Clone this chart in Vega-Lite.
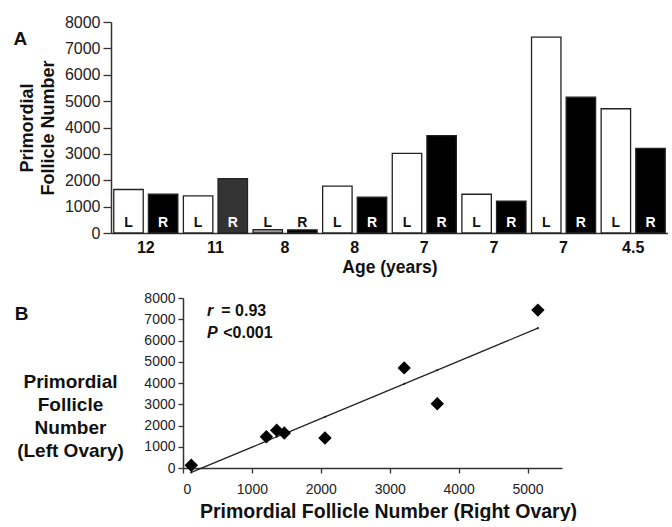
{
  "$schema": "https://vega.github.io/schema/vega-lite/v6.json",
  "padding": {"left": 13, "top": 14, "right": 0, "bottom": 0},
  "spacing": 15,
  "config": {
    "view": {"stroke": null},
    "font": "Liberation Sans",
    "axis": {"grid": false, "labelOverlap": false, "domainColor": "#333333", "tickColor": "#333333", "labelColor": "#222222", "titleColor": "#111111", "domainWidth": 1.5, "tickWidth": 1.3}
  },
  "datasets": {
    "counts": [
      {"donor": "12|1", "side": "L", "count": 1650},
      {"donor": "12|1", "side": "R", "count": 1470},
      {"donor": "11|2", "side": "L", "count": 1410},
      {"donor": "11|2", "side": "R", "count": 2060},
      {"donor": "8|3", "side": "L", "count": 130},
      {"donor": "8|3", "side": "R", "count": 120},
      {"donor": "8|4", "side": "L", "count": 1780},
      {"donor": "8|4", "side": "R", "count": 1360},
      {"donor": "7|5", "side": "L", "count": 3020},
      {"donor": "7|5", "side": "R", "count": 3690},
      {"donor": "7|6", "side": "L", "count": 1470},
      {"donor": "7|6", "side": "R", "count": 1210},
      {"donor": "7|7", "side": "L", "count": 7430},
      {"donor": "7|7", "side": "R", "count": 5150},
      {"donor": "4.5|8", "side": "L", "count": 4710},
      {"donor": "4.5|8", "side": "R", "count": 3210}
    ],
    "fit": [
      {"R": 120, "L": -210},
      {"R": 1210, "L": 1260},
      {"R": 1360, "L": 1470},
      {"R": 1470, "L": 1610},
      {"R": 2060, "L": 2410},
      {"R": 3210, "L": 3960},
      {"R": 3690, "L": 4610},
      {"R": 5150, "L": 6580}
    ],
    "italic": [
      {"t": "r", "R": 350, "L": 7170},
      {"t": "P", "R": 350, "L": 6130}
    ],
    "stats": [
      {"t": "= 0.93", "R": 555, "L": 7170},
      {"t": "<0.001", "R": 584, "L": 6130}
    ]
  },
  "vconcat": [
    {
      "title": {"text": "A", "anchor": "start", "frame": "bounds", "fontSize": 19, "fontWeight": "bold", "baseline": "top", "offset": -14, "dx": -5, "dy": 21, "color": "#111111"},
      "width": 557,
      "height": 211,
      "data": {"name": "counts"},
      "encoding": {
        "x": {
          "field": "donor", "type": "nominal", "sort": null,
          "scale": {"paddingInner": 0, "paddingOuter": 0},
          "axis": {"title": "Age (years)", "labelExpr": "split(datum.label, '|')[0]", "labelAngle": 0, "ticks": false, "labelOverlap": false, "labelFont": "Liberation Sans", "labelFontWeight": "bold", "labelFontSize": 16, "labelPadding": 6, "labelColor": "#111111", "titleFontSize": 17.5, "titleFontWeight": "bold", "titlePadding": 3}
        },
        "xOffset": {"field": "side", "type": "nominal", "scale": {"paddingInner": 0.15, "paddingOuter": 0.08}}
      },
      "layer": [
        {
          "mark": {"type": "bar", "stroke": "#222222", "strokeWidth": 1.3},
          "encoding": {
            "y": {
              "field": "count", "type": "quantitative",
              "scale": {"domain": [0, 8000], "nice": false},
              "axis": {"title": ["Primordial", "Follicle Number"], "values": [0, 1000, 2000, 3000, 4000, 5000, 6000, 7000, 8000], "tickCount": 12, "format": "d", "labelOverlap": false, "labelFont": "Liberation Sans", "labelFontSize": 16, "tickSize": 8, "labelPadding": 3, "titleFontSize": 18, "titleFontWeight": "bold", "titlePadding": 7, "titleLineHeight": 21}
            },
            "fill": {
              "condition": [
                {"test": "datum.side == 'R' && datum.donor == '11|2'", "value": "#333333"},
                {"test": "datum.side == 'L' && datum.donor == '8|3'", "value": "#999999"},
                {"test": "datum.side == 'R'", "value": "#000000"}
              ],
              "value": "#ffffff"
            }
          }
        },
        {
          "mark": {"type": "text", "fontWeight": "bold", "fontSize": 14, "baseline": "alphabetic", "dy": -6},
          "encoding": {
            "y": {
              "datum": 0, "type": "quantitative",
              "scale": {"domain": [0, 8000], "nice": false},
              "axis": {"title": ["Primordial", "Follicle Number"], "values": [0, 1000, 2000, 3000, 4000, 5000, 6000, 7000, 8000], "tickCount": 12, "format": "d", "labelOverlap": false, "labelFont": "Liberation Sans", "labelFontSize": 16, "tickSize": 8, "labelPadding": 3, "titleFontSize": 18, "titleFontWeight": "bold", "titlePadding": 7, "titleLineHeight": 21}
            },
            "text": {"field": "side"},
            "color": {"condition": {"test": "datum.side == 'R' && datum.count > 500", "value": "#ffffff"}, "value": "#111111"}
          }
        }
      ]
    },
    {
      "bounds": "flush",
      "spacing": 0,
      "hconcat": [
        {
          "width": 72,
          "height": 1,
          "data": {"values": []},
          "mark": {"type": "point", "opacity": 0}
        },
        {
          "title": {"text": "B", "anchor": "start", "frame": "bounds", "fontSize": 19, "fontWeight": "bold", "baseline": "top", "offset": -10, "dx": -2, "dy": 23, "color": "#111111"},
          "width": 379,
          "height": 170,
          "encoding": {
            "x": {
              "field": "R", "type": "quantitative",
              "scale": {"domain": [0, 5500], "nice": false},
              "axis": {"title": "Primordial Follicle Number (Right Ovary)", "values": [0, 1000, 2000, 3000, 4000, 5000], "tickCount": 10, "format": "d", "labelOverlap": false, "labelFont": "Liberation Sans", "labelFontSize": 14, "tickSize": 5, "labelPadding": 9, "titleFontSize": 19.5, "titleFontWeight": "bold", "titlePadding": 6, "titleX": 205}
            },
            "y": {
              "field": "L", "type": "quantitative",
              "scale": {"domain": [0, 8000], "nice": false},
              "axis": {"title": ["Primordial", "Follicle", "Number", "(Left Ovary)"], "values": [0, 1000, 2000, 3000, 4000, 5000, 6000, 7000, 8000], "tickCount": 12, "format": "d", "labelOverlap": false, "labelFont": "Liberation Sans", "labelFontSize": 14, "tickSize": 5, "labelPadding": 3, "titleFontSize": 19, "titleFontWeight": "bold", "titleAngle": 0, "titleAlign": "center", "titleBaseline": "middle", "titleLineHeight": 23, "titleX": -113, "titleY": 83}
            }
          },
          "layer": [
            {
              "data": {"name": "fit"},
              "mark": {"type": "line", "color": "#222222", "strokeWidth": 1.3, "point": {"filled": true, "size": 5, "color": "#222222"}}
            },
            {
              "data": {"name": "counts"},
              "transform": [{"pivot": "side", "value": "count", "groupby": ["donor"]}],
              "mark": {"type": "point", "shape": "diamond", "filled": true, "size": 180, "color": "#000000", "opacity": 1}
            },
            {
              "data": {"name": "italic"},
              "mark": {"type": "text", "fontWeight": "bold", "fontStyle": "italic", "fontSize": 16, "align": "left", "baseline": "alphabetic", "color": "#111111"},
              "encoding": {"text": {"field": "t"}}
            },
            {
              "data": {"name": "stats"},
              "mark": {"type": "text", "fontWeight": "bold", "fontSize": 16, "align": "left", "baseline": "alphabetic", "color": "#111111"},
              "encoding": {"text": {"field": "t"}}
            }
          ]
        }
      ]
    }
  ]
}
